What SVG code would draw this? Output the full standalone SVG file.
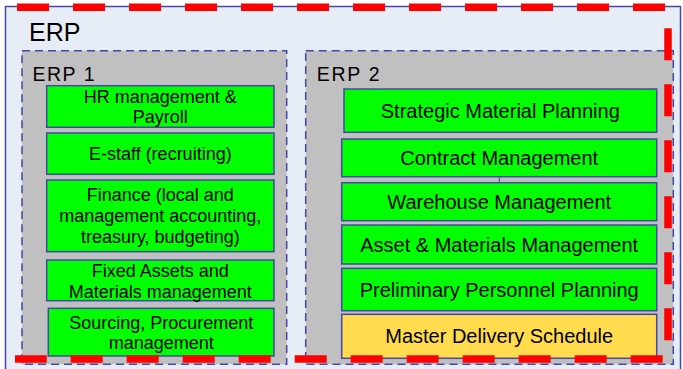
<svg xmlns="http://www.w3.org/2000/svg" width="683" height="369" viewBox="0 0 683 369">
<style>
.grp{fill:#C0C0C0;stroke:#4646A6;stroke-width:1.5;stroke-dasharray:8 5}
.n{fill:#00FF00;stroke:#4646A6;stroke-width:1.5}
.y{fill:#FFDB4D;stroke:#4646A6;stroke-width:1.5}
.t{font-family:"Liberation Sans",Arial,sans-serif;fill:#000;text-anchor:middle}
.s18{font-size:18px}
.s20{font-size:20px}
.lbl{font-family:"Liberation Sans",Arial,sans-serif;fill:#000}
.conn{stroke:#4646A6;stroke-width:1;fill:none}
</style>
<g id="erp">
<rect x="5.5" y="6.5" width="675" height="372" fill="#E7EDF7" stroke="#4646A6" stroke-width="1.5"/>
<text class="lbl" x="29" y="40.7" font-size="25">ERP</text>
</g>
<g id="erp1">
<rect class="grp" x="22" y="50.7" width="264.7" height="313.6"/>
<text class="lbl" x="32.5" y="80.7" font-size="19.5" textLength="62" lengthAdjust="spacing">ERP 1</text>
</g>
<g id="erp2">
<rect class="grp" x="305.7" y="50.7" width="367.6" height="313.6"/>
<text class="lbl" x="316.7" y="81" font-size="19.5" textLength="63" lengthAdjust="spacing">ERP 2</text>
</g>
<g id="hr">
<rect class="n" x="46.7" y="85.7" width="227.3" height="41.6"/>
<text class="t s18" x="160.3" y="103"><tspan x="160.3">HR management &amp;</tspan><tspan x="160.3" dy="20">Payroll</tspan></text>
</g>
<g id="estaff">
<rect class="n" x="46.7" y="133" width="227.3" height="41.3"/>
<text class="t s18" x="160.3" y="160">E-staff (recruiting)</text>
</g>
<g id="finance">
<rect class="n" x="46.7" y="180" width="227.3" height="71.7"/>
<text class="t s18" x="160.3" y="201"><tspan x="160.3">Finance (local and</tspan><tspan x="160.3" dy="21">management accounting,</tspan><tspan x="160.3" dy="21">treasury, budgeting)</tspan></text>
</g>
<g id="fixed">
<rect class="n" x="46.7" y="260" width="227.3" height="40.7"/>
<text class="t s18" x="160.3" y="277"><tspan x="160.3">Fixed Assets and</tspan><tspan x="160.3" dy="20.5">Materials management</tspan></text>
</g>
<g id="sourcing">
<rect class="n" x="48.3" y="308.3" width="225.7" height="47.7"/>
<text class="t s18" x="161.2" y="328.5"><tspan x="161.2">Sourcing, Procurement</tspan><tspan x="161.2" dy="20.7">management</tspan></text>
</g>
<g id="strategic">
<rect class="n" x="344" y="89" width="312.7" height="43.3"/>
<text class="t s20" x="500.3" y="117.6">Strategic Material Planning</text>
</g>
<g id="contract">
<rect class="n" x="341.7" y="139" width="315" height="37.7"/>
<text class="t s20" x="499.2" y="165">Contract Management</text>
</g>
<g id="warehouse">
<rect class="n" x="341.7" y="182.7" width="315" height="38"/>
<text class="t s20" x="499.2" y="208.8">Warehouse Management</text>
</g>
<g id="asset">
<rect class="n" x="341.7" y="225" width="315" height="39"/>
<text class="t s20" x="499.2" y="252">Asset &amp; Materials Management</text>
</g>
<g id="preliminary">
<rect class="n" x="341.7" y="268.3" width="315" height="42.4"/>
<text class="t s20" x="499.2" y="296.6">Preliminary Personnel Planning</text>
</g>
<g id="master">
<rect class="y" x="341.7" y="314.3" width="315" height="44"/>
<text class="t s20" x="499.2" y="343.3">Master Delivery Schedule</text>
</g>
<g id="connectors">
<line class="conn" x1="499.3" y1="176.7" x2="499.3" y2="182.7"/>
</g>
<g id="boundary">
<path d="M17,7.3 H668 V359 H15" fill="none" stroke="#FF0000" stroke-width="7.5" stroke-dasharray="32 24"/>
</g>
</svg>
